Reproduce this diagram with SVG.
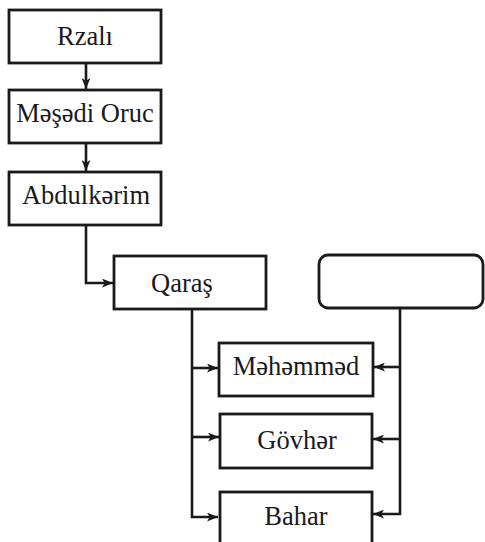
<svg xmlns="http://www.w3.org/2000/svg" width="485" height="542" viewBox="0 0 485 542">
<defs>
<marker id="ah" viewBox="0 0 10 8" refX="10" refY="4" markerWidth="11" markerHeight="9" markerUnits="userSpaceOnUse" orient="auto">
<path d="M0,0 L10,4 L0,8 L2.5,4 Z" fill="#1a1a1a"/>
</marker>
</defs>
<style>
.box{fill:#fff;stroke:#1a1a1a;stroke-width:2.8}
.lbl{font-family:"Liberation Serif","Times New Roman",serif;font-size:26.5px;fill:#1a1a1a;text-anchor:middle}
.con{fill:none;stroke:#1a1a1a;stroke-width:2.6}
</style>
<rect width="485" height="542" fill="#fff"/>
<g id="connectors">
<path class="con" d="M86,63 V89" marker-end="url(#ah)"/>
<path class="con" d="M86,143 V171" marker-end="url(#ah)"/>
<path class="con" d="M86,225 V283 H113" marker-end="url(#ah)"/>
<path class="con" d="M192,309 V517 H218" marker-end="url(#ah)"/>
<path class="con" d="M192,368 H218" marker-end="url(#ah)"/>
<path class="con" d="M192,437 H219" marker-end="url(#ah)"/>
<path class="con" d="M400,308 V514 H373" marker-end="url(#ah)"/>
<path class="con" d="M400,367 H374" marker-end="url(#ah)"/>
<path class="con" d="M400,439 H373" marker-end="url(#ah)"/>
</g>
<g id="rzali"><rect class="box" x="9" y="10" width="152" height="53"/><text class="lbl" x="85" y="45">Rzalı</text></g>
<g id="mesedi-oruc"><rect class="box" x="9" y="90" width="152" height="53"/><text class="lbl" x="85" y="122">Məşədi Oruc</text></g>
<g id="abdulkerim"><rect class="box" x="9" y="172" width="152" height="53"/><text class="lbl" x="86" y="204">Abdulkərim</text></g>
<g id="qaras"><rect class="box" x="114" y="256" width="152" height="53"/><text class="lbl" x="182" y="292">Qaraş</text></g>
<g id="blank"><rect class="box" x="319" y="255" width="164" height="53" rx="9"/></g>
<g id="mehemmed"><rect class="box" x="219" y="343" width="154" height="53"/><text class="lbl" x="296" y="375">Məhəmməd</text></g>
<g id="govher"><rect class="box" x="220" y="414" width="152" height="54"/><text class="lbl" x="297" y="449">Gövhər</text></g>
<g id="bahar"><rect class="box" x="220" y="492" width="152" height="60"/><text class="lbl" x="296" y="525">Bahar</text></g>
</svg>
